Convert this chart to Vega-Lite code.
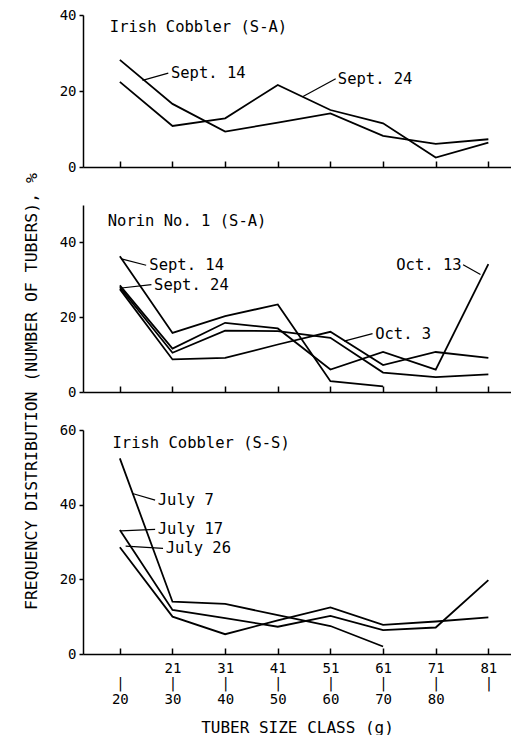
{
  "$schema": "https://vega.github.io/schema/vega-lite/v6.json",
  "padding": {"left": 22, "top": 8, "right": 0, "bottom": 0},
  "bounds": "flush",
  "spacing": 38,
  "background": "white",
  "config": {
    "view": {"stroke": null},
    "font": "DejaVu Sans Mono",
    "axis": {"grid": false, "domainColor": "black", "tickColor": "black", "labelColor": "black", "titleColor": "black", "labelFont": "DejaVu Sans Mono", "labelFontSize": 14, "titleFont": "DejaVu Sans Mono", "titleFontSize": 16, "titleFontWeight": "normal", "domainWidth": 1.5, "tickWidth": 1.5}
  },
  "datasets": {
    "lines": [
      {"p": 1, "s": "Sept. 14", "c": 1, "v": 28.2}, {"p": 1, "s": "Sept. 14", "c": 2, "v": 16.6}, {"p": 1, "s": "Sept. 14", "c": 3, "v": 9.3}, {"p": 1, "s": "Sept. 14", "c": 4, "v": 11.7}, {"p": 1, "s": "Sept. 14", "c": 5, "v": 14.1}, {"p": 1, "s": "Sept. 14", "c": 6, "v": 8.2}, {"p": 1, "s": "Sept. 14", "c": 7, "v": 6.1}, {"p": 1, "s": "Sept. 14", "c": 8, "v": 7.3},
      {"p": 1, "s": "Sept. 24", "c": 1, "v": 22.4}, {"p": 1, "s": "Sept. 24", "c": 2, "v": 10.8}, {"p": 1, "s": "Sept. 24", "c": 3, "v": 12.8}, {"p": 1, "s": "Sept. 24", "c": 4, "v": 21.6}, {"p": 1, "s": "Sept. 24", "c": 5, "v": 15.0}, {"p": 1, "s": "Sept. 24", "c": 6, "v": 11.5}, {"p": 1, "s": "Sept. 24", "c": 7, "v": 2.5}, {"p": 1, "s": "Sept. 24", "c": 8, "v": 6.4},
      {"p": 2, "s": "Sept. 14", "c": 1, "v": 36.3}, {"p": 2, "s": "Sept. 14", "c": 2, "v": 15.8}, {"p": 2, "s": "Sept. 14", "c": 3, "v": 20.3}, {"p": 2, "s": "Sept. 14", "c": 4, "v": 23.4}, {"p": 2, "s": "Sept. 14", "c": 5, "v": 2.9}, {"p": 2, "s": "Sept. 14", "c": 6, "v": 1.5},
      {"p": 2, "s": "Sept. 24", "c": 1, "v": 28.0}, {"p": 2, "s": "Sept. 24", "c": 2, "v": 10.5}, {"p": 2, "s": "Sept. 24", "c": 3, "v": 16.4}, {"p": 2, "s": "Sept. 24", "c": 4, "v": 16.3}, {"p": 2, "s": "Sept. 24", "c": 5, "v": 14.5}, {"p": 2, "s": "Sept. 24", "c": 6, "v": 5.2}, {"p": 2, "s": "Sept. 24", "c": 7, "v": 4.0}, {"p": 2, "s": "Sept. 24", "c": 8, "v": 4.7},
      {"p": 2, "s": "Oct. 3", "c": 1, "v": 27.5}, {"p": 2, "s": "Oct. 3", "c": 2, "v": 8.7}, {"p": 2, "s": "Oct. 3", "c": 3, "v": 9.1}, {"p": 2, "s": "Oct. 3", "c": 4, "v": 12.7}, {"p": 2, "s": "Oct. 3", "c": 5, "v": 16.1}, {"p": 2, "s": "Oct. 3", "c": 6, "v": 7.2}, {"p": 2, "s": "Oct. 3", "c": 7, "v": 10.7}, {"p": 2, "s": "Oct. 3", "c": 8, "v": 9.1},
      {"p": 2, "s": "Oct. 13", "c": 1, "v": 28.5}, {"p": 2, "s": "Oct. 13", "c": 2, "v": 11.6}, {"p": 2, "s": "Oct. 13", "c": 3, "v": 18.5}, {"p": 2, "s": "Oct. 13", "c": 4, "v": 17.0}, {"p": 2, "s": "Oct. 13", "c": 5, "v": 6.0}, {"p": 2, "s": "Oct. 13", "c": 6, "v": 10.7}, {"p": 2, "s": "Oct. 13", "c": 7, "v": 6.0}, {"p": 2, "s": "Oct. 13", "c": 8, "v": 34.2},
      {"p": 3, "s": "July 7", "c": 1, "v": 52.4}, {"p": 3, "s": "July 7", "c": 2, "v": 14.0}, {"p": 3, "s": "July 7", "c": 3, "v": 13.4}, {"p": 3, "s": "July 7", "c": 4, "v": 10.4}, {"p": 3, "s": "July 7", "c": 5, "v": 7.5}, {"p": 3, "s": "July 7", "c": 6, "v": 2.0},
      {"p": 3, "s": "July 17", "c": 1, "v": 33.2}, {"p": 3, "s": "July 17", "c": 2, "v": 11.8}, {"p": 3, "s": "July 17", "c": 3, "v": 9.6}, {"p": 3, "s": "July 17", "c": 4, "v": 7.3}, {"p": 3, "s": "July 17", "c": 5, "v": 10.2}, {"p": 3, "s": "July 17", "c": 6, "v": 6.4}, {"p": 3, "s": "July 17", "c": 7, "v": 7.1}, {"p": 3, "s": "July 17", "c": 8, "v": 19.8},
      {"p": 3, "s": "July 26", "c": 1, "v": 28.6}, {"p": 3, "s": "July 26", "c": 2, "v": 10.0}, {"p": 3, "s": "July 26", "c": 3, "v": 5.3}, {"p": 3, "s": "July 26", "c": 4, "v": 9.0}, {"p": 3, "s": "July 26", "c": 5, "v": 12.5}, {"p": 3, "s": "July 26", "c": 6, "v": 7.8}, {"p": 3, "s": "July 26", "c": 7, "v": 8.7}, {"p": 3, "s": "July 26", "c": 8, "v": 9.8}
    ],
    "labels": [
      {"p": 1, "t": "Irish Cobbler (S-A)", "x": 0.81, "y": 36.8},
      {"p": 1, "t": "Sept. 14", "x": 1.97, "y": 24.7},
      {"p": 1, "t": "Sept. 24", "x": 5.14, "y": 23.2},
      {"p": 2, "t": "Norin No. 1 (S-A)", "x": 0.77, "y": 45.8},
      {"p": 2, "t": "Sept. 14", "x": 1.56, "y": 33.9},
      {"p": 2, "t": "Sept. 24", "x": 1.65, "y": 28.7},
      {"p": 2, "t": "Oct. 3", "x": 5.85, "y": 15.6},
      {"p": 2, "t": "Oct. 13", "x": 6.25, "y": 34.0},
      {"p": 3, "t": "Irish Cobbler (S-S)", "x": 0.86, "y": 56.4},
      {"p": 3, "t": "July 7", "x": 1.72, "y": 41.2},
      {"p": 3, "t": "July 17", "x": 1.72, "y": 33.4},
      {"p": 3, "t": "July 26", "x": 1.87, "y": 28.3}
    ],
    "leaders": [
      {"p": 1, "x": 1.43, "y": 22.8, "x2": 1.92, "y2": 24.7},
      {"p": 1, "x": 4.47, "y": 18.5, "x2": 5.1, "y2": 23.2},
      {"p": 2, "x": 1.03, "y": 35.6, "x2": 1.5, "y2": 33.9},
      {"p": 2, "x": 1.03, "y": 27.8, "x2": 1.6, "y2": 28.7},
      {"p": 2, "x": 5.26, "y": 13.6, "x2": 5.8, "y2": 15.6},
      {"p": 2, "x": 7.85, "y": 31.4, "x2": 7.52, "y2": 34.0},
      {"p": 3, "x": 1.24, "y": 43.0, "x2": 1.67, "y2": 41.2},
      {"p": 3, "x": 1.02, "y": 33.0, "x2": 1.67, "y2": 33.4},
      {"p": 3, "x": 1.11, "y": 28.9, "x2": 1.82, "y2": 28.3}
    ]
  },
  "vconcat": [
    {
      "width": 428, "height": 152,
      "layer": [
        {
          "data": {"name": "lines"}, "transform": [{"filter": "datum.p == 1"}],
          "mark": {"type": "line", "color": "black", "strokeWidth": 1.8},
          "encoding": {
            "x": {"field": "c", "type": "quantitative", "scale": {"domain": [0.3, 8.43], "nice": false, "zero": false}, "axis": {"values": [1, 2, 3, 4, 5, 6, 7, 8], "labels": false, "title": null, "tickSize": -6}},
            "y": {"field": "v", "type": "quantitative", "scale": {"domain": [0, 40], "nice": false}, "axis": {"values": [0, 10, 20, 30, 40], "labelExpr": "datum.value % 20 == 0 ? datum.label : ''", "title": null, "tickSize": 4, "labelPadding": 3}},
            "detail": {"field": "s"}
          }
        },
        {
          "data": {"name": "labels"}, "transform": [{"filter": "datum.p == 1"}],
          "mark": {"type": "text", "align": "left", "baseline": "middle", "fontSize": 15.5, "font": "DejaVu Sans Mono", "color": "black"},
          "encoding": {"x": {"field": "x", "type": "quantitative"}, "y": {"field": "y", "type": "quantitative"}, "text": {"field": "t"}}
        },
        {
          "data": {"name": "leaders"}, "transform": [{"filter": "datum.p == 1"}],
          "mark": {"type": "rule", "color": "black", "strokeWidth": 1.2},
          "encoding": {"x": {"field": "x", "type": "quantitative"}, "y": {"field": "y", "type": "quantitative"}, "x2": {"field": "x2"}, "y2": {"field": "y2"}}
        }
      ]
    },
    {
      "width": 428, "height": 187,
      "layer": [
        {
          "data": {"name": "lines"}, "transform": [{"filter": "datum.p == 2"}],
          "mark": {"type": "line", "color": "black", "strokeWidth": 1.8},
          "encoding": {
            "x": {"field": "c", "type": "quantitative", "scale": {"domain": [0.3, 8.43], "nice": false, "zero": false}, "axis": {"values": [1, 2, 3, 4, 5, 6, 7, 8], "labels": false, "title": null, "tickSize": -6}},
            "y": {"field": "v", "type": "quantitative", "scale": {"domain": [0, 50], "nice": false}, "axis": {"values": [0, 10, 20, 30, 40, 50], "labelExpr": "datum.value % 20 == 0 ? datum.label : ''", "title": "FREQUENCY DISTRIBUTION (NUMBER OF TUBERS), %", "titleFontSize": 16.5, "titleX": -52, "titleY": 186, "titleAngle": -90, "titleAlign": "center", "titleBaseline": "middle", "tickSize": 4, "labelPadding": 3}},
            "detail": {"field": "s"}
          }
        },
        {
          "data": {"name": "labels"}, "transform": [{"filter": "datum.p == 2"}],
          "mark": {"type": "text", "align": "left", "baseline": "middle", "fontSize": 15.5, "font": "DejaVu Sans Mono", "color": "black"},
          "encoding": {"x": {"field": "x", "type": "quantitative"}, "y": {"field": "y", "type": "quantitative"}, "text": {"field": "t"}}
        },
        {
          "data": {"name": "leaders"}, "transform": [{"filter": "datum.p == 2"}],
          "mark": {"type": "rule", "color": "black", "strokeWidth": 1.2},
          "encoding": {"x": {"field": "x", "type": "quantitative"}, "y": {"field": "y", "type": "quantitative"}, "x2": {"field": "x2"}, "y2": {"field": "y2"}}
        }
      ]
    },
    {
      "width": 428, "height": 224,
      "layer": [
        {
          "data": {"name": "lines"}, "transform": [{"filter": "datum.p == 3"}],
          "mark": {"type": "line", "color": "black", "strokeWidth": 1.8},
          "encoding": {
            "x": {"field": "c", "type": "quantitative", "scale": {"domain": [0.3, 8.43], "nice": false, "zero": false}, "axis": {"values": [1, 2, 3, 4, 5, 6, 7, 8], "labelExpr": "[['','|','20'],['21','|','30'],['31','|','40'],['41','|','50'],['51','|','60'],['61','|','70'],['71','|','80'],['81','|','']][datum.value - 1]", "labelLineHeight": 15.5, "labelPadding": 20, "labelBaseline": "middle", "title": "TUBER SIZE CLASS (g)", "titlePadding": 13, "tickSize": -6}},
            "y": {"field": "v", "type": "quantitative", "scale": {"domain": [0, 60], "nice": false}, "axis": {"values": [0, 10, 20, 30, 40, 50, 60], "labelExpr": "datum.value % 20 == 0 ? datum.label : ''", "title": null, "tickSize": 4, "labelPadding": 3}},
            "detail": {"field": "s"}
          }
        },
        {
          "data": {"name": "labels"}, "transform": [{"filter": "datum.p == 3"}],
          "mark": {"type": "text", "align": "left", "baseline": "middle", "fontSize": 15.5, "font": "DejaVu Sans Mono", "color": "black"},
          "encoding": {"x": {"field": "x", "type": "quantitative"}, "y": {"field": "y", "type": "quantitative"}, "text": {"field": "t"}}
        },
        {
          "data": {"name": "leaders"}, "transform": [{"filter": "datum.p == 3"}],
          "mark": {"type": "rule", "color": "black", "strokeWidth": 1.2},
          "encoding": {"x": {"field": "x", "type": "quantitative"}, "y": {"field": "y", "type": "quantitative"}, "x2": {"field": "x2"}, "y2": {"field": "y2"}}
        }
      ]
    }
  ]
}
